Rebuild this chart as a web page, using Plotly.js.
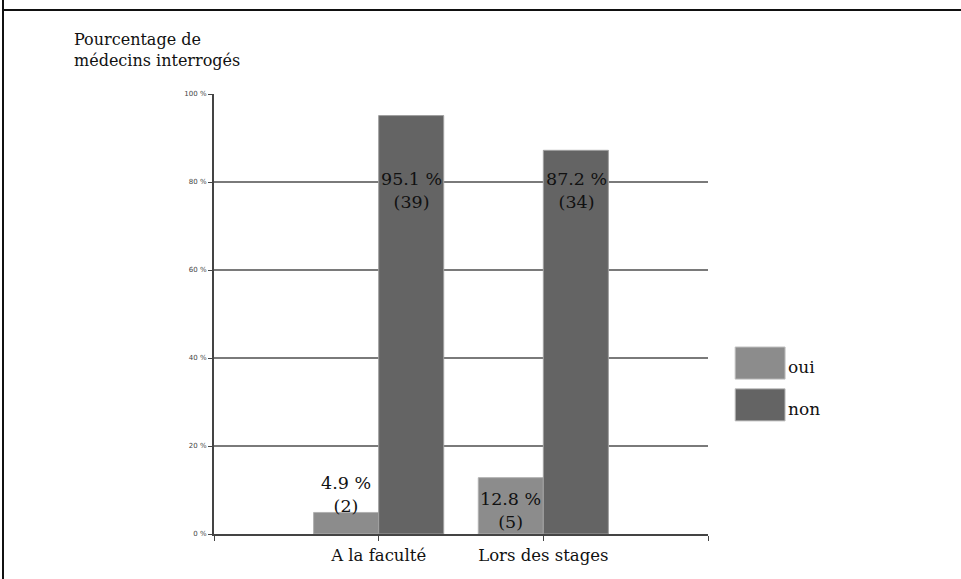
<!DOCTYPE html>
<html>
<head>
<meta charset="utf-8">
<script src="https://cdn.plot.ly/plotly-3.0.1.min.js"></script>
<style>
  html, body { margin: 0; padding: 0; background: #fff; }
  #wrap { position: relative; width: 961px; height: 579px; overflow: hidden; }
  #chart { position: absolute; left: 0; top: 0; width: 961px; height: 579px; }
  #frameTop { position: absolute; left: 2px; top: 9px; width: 959px; height: 2px; background: #111; }
  #frameLeft { position: absolute; left: 2px; top: 0; width: 2px; height: 579px; background: #111; }
</style>
</head>
<body>
<div id="wrap">
  <div id="chart"></div>
  <div id="frameTop"></div>
  <div id="frameLeft"></div>
</div>
<script>
// ---- data ----
const categories = ['A la faculté', 'Lors des stages'];
const seriesNames = ['oui', 'non'];
const ouiPct = [4.9, 12.8];
const nonPct = [95.1, 87.2];
const ouiCount = [2, 5];
const nonCount = [39, 34];
const yTickVals = [0, 20, 40, 60, 80, 100];

const colors = { oui: '#8c8c8c', non: '#646464' };
const serif = 'DejaVu Serif';

const xIdx = categories.map((c, i) => i);

const traces = [
  { type: 'bar', name: seriesNames[0], x: xIdx, y: ouiPct,
    marker: { color: colors.oui, line: { color: '#b0b0b0', width: 1 } }, hoverinfo: 'skip' },
  { type: 'bar', name: seriesNames[1], x: xIdx, y: nonPct,
    marker: { color: colors.non, line: { color: '#a0a0a0', width: 1 } }, hoverinfo: 'skip' }
];

// data labels (positions chosen to mimic the original label placement)
const annotations = [];
const barOffset = 0.2;
const ouiLabelY = [8.9, 5.4];
const nonLabelY = [78.0, 78.0];
xIdx.forEach((x, i) => {
  annotations.push({ x: x - barOffset, y: ouiLabelY[i], xref: 'x', yref: 'y', showarrow: false,
    text: ouiPct[i].toFixed(1) + ' %<br>(' + ouiCount[i] + ')',
    font: { family: serif, size: 17.5, color: '#111' } });
  annotations.push({ x: x + barOffset, y: nonLabelY[i], xref: 'x', yref: 'y', showarrow: false,
    text: nonPct[i].toFixed(1) + ' %<br>(' + nonCount[i] + ')',
    font: { family: serif, size: 17.5, color: '#111' } });
});

// axis title (top-left)
annotations.push({ xref: 'paper', yref: 'paper', x: -0.288, y: 1.0, yanchor: 'bottom', xanchor: 'left',
  yshift: 22, align: 'left', showarrow: false,
  text: 'Pourcentage de<br>médecins interrogés',
  font: { family: serif, size: 16, color: '#111' } });

// custom legend with large swatches
const shapes = [];
seriesNames.forEach((n, i) => {
  const top = 0.425 - i * 0.095;
  shapes.push({ type: 'rect', xref: 'paper', yref: 'paper',
    x0: 1.055, x1: 1.156, y0: top - 0.073, y1: top,
    fillcolor: colors[n], line: { color: '#c0c0c0', width: 1 } });
  annotations.push({ xref: 'paper', yref: 'paper', x: 1.158, y: top - 0.045, xanchor: 'left',
    yanchor: 'middle', showarrow: false, text: n,
    font: { family: serif, size: 17, color: '#111' } });
});

const layout = {
  width: 961, height: 579,
  margin: { l: 214, r: 253, t: 94, b: 45 },
  paper_bgcolor: '#fff', plot_bgcolor: '#fff',
  barmode: 'group', bargap: 0.21, bargroupgap: 0,
  showlegend: false,
  xaxis: {
    range: [-1, 2], tickmode: 'array',
    tickvals: [-1].concat(xIdx, [2]),
    ticktext: [''].concat(categories, ['']),
    ticks: 'outside', ticklen: 5, tickcolor: '#444', tickwidth: 1,
    showline: true, linecolor: '#444', linewidth: 2,
    showgrid: false, zeroline: false,
    tickfont: { family: serif, size: 16.5, color: '#111' }
  },
  yaxis: {
    range: [0, 100], tickmode: 'array', tickvals: yTickVals,
    ticktext: yTickVals.map(v => v + ' %'),
    ticks: 'outside', ticklen: 4, tickcolor: '#444',
    showline: true, linecolor: '#444', linewidth: 2,
    showgrid: true, gridcolor: '#7a7a7a', gridwidth: 2,
    zeroline: false,
    tickfont: { family: 'DejaVu Sans', size: 7, color: '#444' }
  },
  annotations: annotations,
  shapes: shapes
};

Plotly.newPlot('chart', traces, layout, { staticPlot: true, displayModeBar: false });
</script>
</body>
</html>
